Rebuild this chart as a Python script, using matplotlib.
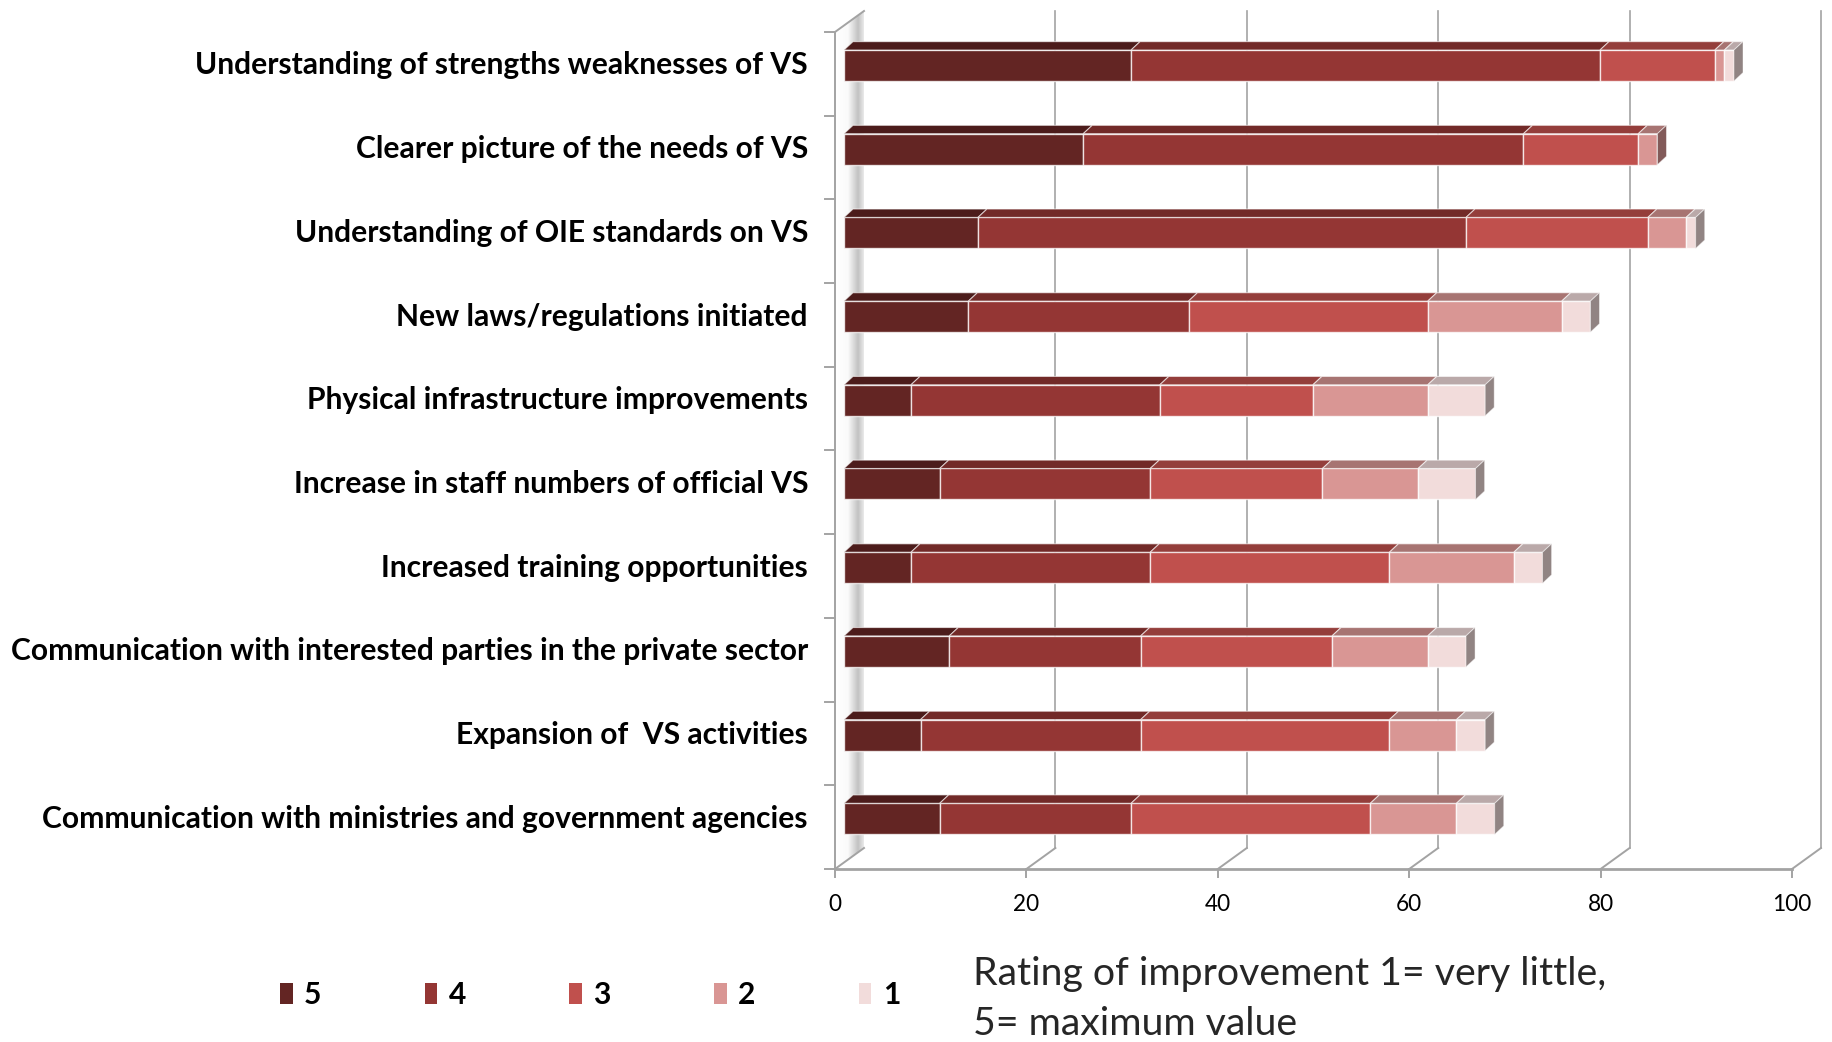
import numpy as np
import matplotlib
matplotlib.use('Agg')
import matplotlib.pyplot as plt
from matplotlib.patches import Polygon, Patch
from matplotlib.font_manager import FontProperties
import matplotlib.colors as mcolors

# ---------------- data ----------------
categories = [
    "Understanding of strengths weaknesses of VS",
    "Clearer picture of the needs of VS",
    "Understanding of OIE standards on VS",
    "New laws/regulations initiated",
    "Physical infrastructure improvements",
    "Increase in staff numbers of official VS",
    "Increased training opportunities",
    "Communication with interested parties in the private sector",
    "Expansion of  VS activities",
    "Communication with ministries and government agencies",
]
rating5 = [30, 25, 14, 13, 7, 10, 7, 11, 8, 10]
rating4 = [49, 46, 51, 23, 26, 22, 25, 20, 23, 20]
rating3 = [12, 12, 19, 25, 16, 18, 25, 20, 26, 25]
rating2 = [1, 2, 4, 14, 12, 10, 13, 10, 7, 9]
rating1 = [1, 0, 1, 3, 6, 6, 3, 4, 3, 4]
series_labels = ["5", "4", "3", "2", "1"]
xticks = [0, 20, 40, 60, 80, 100]
note_line1 = "Rating of improvement 1= very little,"
note_line2 = "5= maximum value"

colors = ['#632523', '#943634', '#C0504D', '#D99694', '#F2DCDB']
series = [rating5, rating4, rating3, rating2, rating1]

# ---------------- geometry ----------------
W, H = 1832, 1042
fig = plt.figure(figsize=(W / 100, H / 100), dpi=100)

X0PX, XS = 835.0, 9.57   # px of value 0 on the front floor, px per unit
Y0PX, YS = 869.0, 83.7   # px of front floor, px per category slot

def px(x):
    return X0PX + XS * x

def py(y):
    return Y0PX - YS * (y + 0.5)

xlim = (-1.2, 104.0)
ylim = (-0.62, 9.88)
l_ = px(xlim[0]) / W
r_ = px(xlim[1]) / W
b_ = 1 - py(ylim[0]) / H
t_ = 1 - py(ylim[1]) / H
ax = fig.add_axes([l_, b_, r_ - l_, t_ - b_])

DX, DY = 29 / XS, 21 / YS        # depth vector of the floor/walls
BX0 = 0.94                       # bar front face origin shift
YOFF = 0.10                      # bar front face vertical shift
BH = 0.37                        # bar front face height
TDX, TDY = 0.94, 0.10            # bar depth

GRID = '#a3a3a3'

def shade(c, f):
    r, g, b = mcolors.to_rgb(c)
    return (r * f, g * f, b * f)

# left wall with gradient
tt = np.linspace(0, 1, 200)
g = np.interp(tt, [0, 0.45, 0.8, 1.0], [1.0, 0.98, 0.76, 0.92])
img = np.dstack([g, g, g]).reshape(1, -1, 3)
wall = Polygon([(0, -0.5), (DX, -0.5 + DY), (DX, 9.5 + DY), (0, 9.5)], closed=True,
               facecolor='none', edgecolor='none', zorder=1)
ax.add_patch(wall)
im = ax.imshow(img, extent=[0, DX, -0.5, 9.5 + DY], aspect='auto',
               interpolation='bilinear', zorder=1)
im.set_clip_path(wall)

# wall edges
ax.plot([0, 0], [-0.5, 9.5], color=GRID, lw=1.4, zorder=2, solid_capstyle='butt')
ax.plot([0, DX], [9.5, 9.5 + DY], color=GRID, lw=1.4, zorder=2)

# back wall gridlines
for v in xticks[1:]:
    ax.plot([v + DX, v + DX], [-0.5 + DY, 9.5 + DY], color=GRID, lw=1.2, zorder=2)
# floor diagonals
for v in xticks:
    ax.plot([v, v + DX], [-0.5, -0.5 + DY], color=GRID, lw=1.4, zorder=2)
# front floor line + ticks
ax.plot([xticks[0], xticks[-1]], [-0.5, -0.5], color=GRID, lw=2.0, zorder=2)
for v in xticks:
    ax.plot([v, v], [-0.5, -0.5 - 0.1], color=GRID, lw=1.4, zorder=2)
# category ticks on the left
for k in range(len(categories) + 1):
    ax.plot([-1.05, 0], [-0.5 + k, -0.5 + k], color=GRID, lw=1.4, zorder=2)

# ---------------- bars ----------------
n = len(categories)
ypos = np.arange(n)[::-1].astype(float)
cum = np.zeros(n)
last_color = [None] * n
for s, c in zip(series, colors):
    vals = np.array(s, dtype=float)
    ax.barh(ypos + YOFF, vals, left=BX0 + cum, height=BH, color=c,
            edgecolor=(1, 1, 1, 0.75), linewidth=1.0, zorder=4)
    for j in range(n):
        if vals[j] <= 0:
            continue
        last_color[j] = c
        lft = BX0 + cum[j]
        rgt = lft + vals[j]
        yt = ypos[j] + YOFF + BH / 2
        ax.add_patch(Polygon([(lft, yt), (rgt, yt), (rgt + TDX, yt + TDY), (lft + TDX, yt + TDY)],
                             closed=True, facecolor=shade(c, 0.77),
                             edgecolor=(1, 1, 1, 0.6), lw=0.8, zorder=4))
    cum += vals

for j in range(n):
    end = BX0 + cum[j]
    yb = ypos[j] + YOFF - BH / 2
    yt = ypos[j] + YOFF + BH / 2
    ax.add_patch(Polygon([(end, yb), (end, yt), (end + TDX, yt + TDY), (end + TDX, yb + TDY)],
                         closed=True, facecolor=shade(last_color[j], 0.6),
                         edgecolor=(1, 1, 1, 0.5), lw=0.6, zorder=4))

ax.set_xlim(xlim)
ax.set_ylim(ylim)
ax.axis('off')

# ---------------- text ----------------
renderer = fig.canvas.get_renderer()

def fit(t, target):
    for _ in range(4):
        w = t.get_window_extent(renderer).width
        t.set_fontsize(t.get_fontsize() * target / w)
    return t.get_fontsize()

lab_x = (808 - X0PX) / XS
cat_texts = []
for j, cat in enumerate(categories):
    t = ax.text(lab_x, ypos[j] + YOFF, cat, ha='right', va='center',
                fontsize=18, fontweight='bold', family=['Lato', 'DejaVu Sans'], color='black')
    cat_texts.append(t)
fs_cat = fit(cat_texts[7], 797)
for t in cat_texts:
    t.set_fontsize(fs_cat)

tick_y = (Y0PX - 905) / YS - 0.5
tick_texts = []
for v in xticks:
    tick_texts.append(ax.text(v, tick_y, str(v), ha='center', va='center', fontsize=16,
                              family=['Lato', 'DejaVu Sans'], color='black'))
fs_tick = fit(tick_texts[-1], 39)
for t in tick_texts:
    t.set_fontsize(fs_tick)

# legend
handles = [Patch(facecolor=c, edgecolor='none') for c in colors]
leg = fig.legend(handles, series_labels, loc='center left',
                 bbox_to_anchor=(280 / W, 1 - 995 / H), ncol=5, frameon=False,
                 handlelength=0.42, handleheight=0.72, handletextpad=0.38,
                 columnspacing=3.45, borderaxespad=0, borderpad=0,
                 prop=FontProperties(family=['Lato', 'DejaVu Sans'], weight='bold', size=fs_cat))

n1 = fig.text(973 / W, 1 - 974 / H, note_line1, ha='left', va='center', fontsize=24,
              family=['Lato', 'DejaVu Sans'], color='#262626')
fs_note = fit(n1, 633)
fig.text(973 / W, 1 - 1024 / H, note_line2, ha='left', va='center', fontsize=fs_note,
         family=['Lato', 'DejaVu Sans'], color='#262626')

fig.savefig('out.png', dpi=100, facecolor='white')
